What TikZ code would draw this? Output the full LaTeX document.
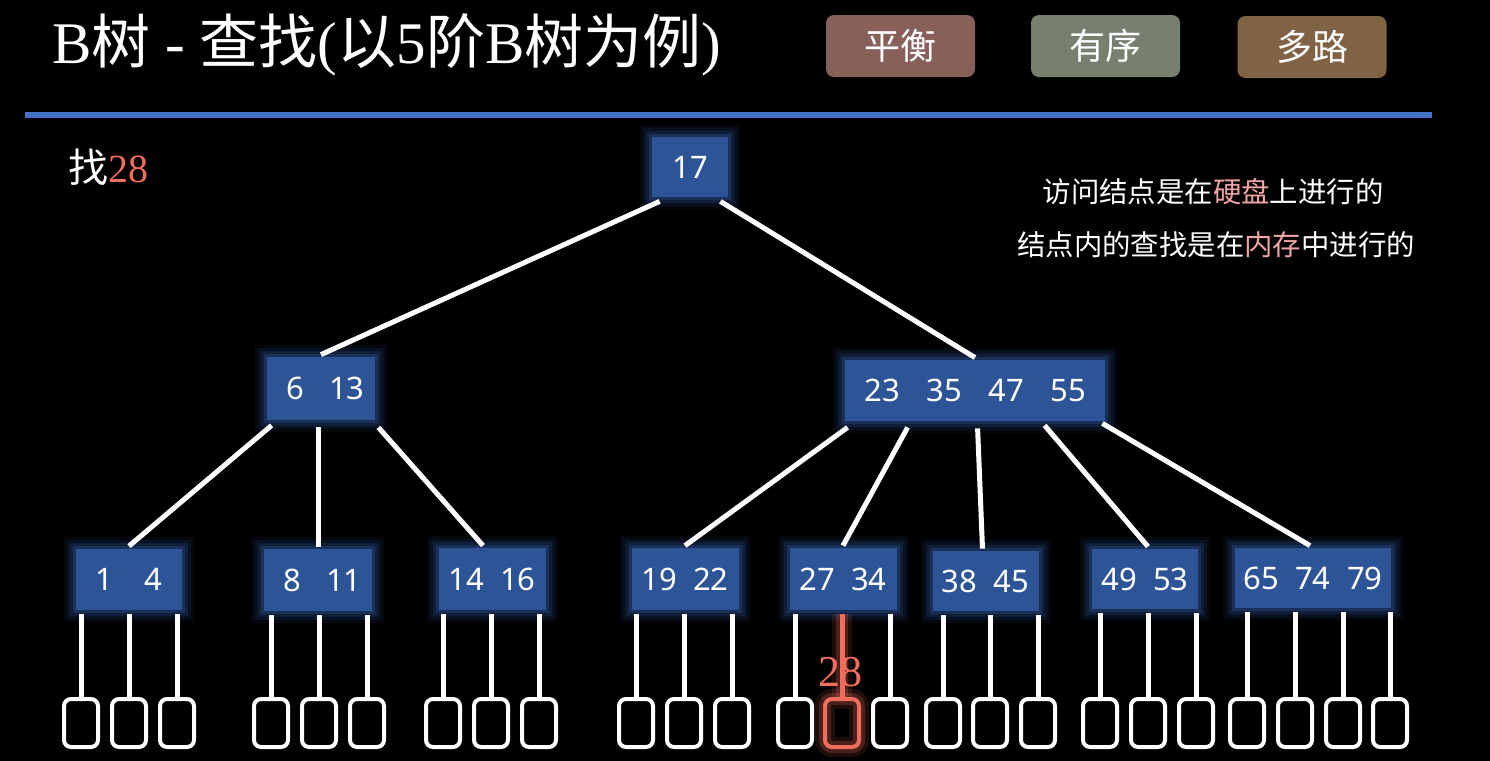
\documentclass[tikz,border=0pt]{standalone}
\usepackage{fontspec}
\setmainfont{Liberation Serif}
\newfontfamily\cjk{Noto Sans CJK SC}
\newfontfamily\numf{Noto Sans}
\usetikzlibrary{calc}
\definecolor{lineblue}{RGB}{68,114,196}
\definecolor{nodeblue}{RGB}{46,84,152}
\definecolor{glowblue}{RGB}{70,120,225}
\definecolor{redc}{RGB}{240,108,92}
\definecolor{pinkc}{RGB}{242,165,165}
\definecolor{btnA}{RGB}{137,95,90}
\definecolor{btnB}{RGB}{119,127,111}
\definecolor{btnC}{RGB}{128,98,68}
\newcommand\zh[1]{{\cjk #1}}
\newcommand\kb[1]{\makebox[26pt]{#1}}
\newcommand\kc[1]{\makebox[31pt]{#1}}
\newcommand\kd[1]{\makebox[24.5pt]{#1}}
\begin{document}
\begin{tikzpicture}[x=0.5pt,y=-0.5pt,
  bnode/.style={fill=nodeblue, text=white, inner sep=0pt, font=\numf\fontsize{15.5}{18}\selectfont,
    preaction={draw=glowblue, line width=12pt, draw opacity=0.06},
    preaction={draw=glowblue, line width=9pt, draw opacity=0.09},
    preaction={draw=glowblue, line width=6pt, draw opacity=0.13},
    preaction={draw=glowblue, line width=3pt, draw opacity=0.2}},
  edge/.style={draw=white, line width=2.5pt},
  leaf/.style={draw=white, line width=2pt, rounded corners=3.5pt, minimum width=17pt, minimum height=24pt, inner sep=0pt},
  hot/.style={draw=redc, line width=2.5pt,
    preaction={draw=redc, line width=10pt, draw opacity=0.12},
    preaction={draw=redc, line width=6pt, draw opacity=0.22}},
  hotleaf/.style={leaf, draw=redc,
    preaction={draw=redc, line width=10pt, draw opacity=0.12},
    preaction={draw=redc, line width=6pt, draw opacity=0.22}},
  btn/.style={rounded corners=4pt, minimum width=74.5pt, minimum height=31pt, inner sep=0pt, text=white, font=\cjk\fontsize{18}{20}\selectfont},
  note/.style={text=white, inner sep=0pt, font=\cjk\fontsize{14.2}{16}\selectfont}
]
\fill[black] (0,0) rectangle (1490,761);
\useasboundingbox (0,0) rectangle (1490,761);

% title
\node[anchor=west, text=white, inner sep=0pt, font=\fontsize{29.5}{32}\selectfont] (title) at (52,45)
  {B\zh{树} - \zh{查找}(\zh{以}5\zh{阶}B\zh{树为例})};
\draw[line width=3pt, lineblue] (25,115) -- (1432,115);

% buttons
\node[btn, fill=btnA] (b1) at (900.5,46) {平衡};
\node[btn, fill=btnB] (b2) at (1105.5,46) {有序};
\node[btn, fill=btnC] (b3) at (1312,47) {多路};

% notes
\node[anchor=west, text=white, inner sep=0pt, font=\fontsize{20}{24}\selectfont] (find) at (68,167)
  {\zh{找}\textcolor{redc}{28}};
\node[note] (n1) at (1213,192) {访问结点是在\textcolor{pinkc}{硬盘}上进行的};
\node[note] (n2) at (1216,245) {结点内的查找是在\textcolor{pinkc}{内存}中进行的};

% tree nodes
\node[bnode, minimum width=38pt, minimum height=30pt] (r) at (690,167) {17};
\node[bnode, minimum width=54pt, minimum height=31.5pt] (a) at (321,388.5) {\kb{6}\kb{13}};
\node[bnode, minimum width=130pt, minimum height=30.5pt] (b) at (975,390.5) {\kc{23}\kc{35}\kc{47}\kc{55}};

\node[bnode, minimum width=53pt, minimum height=30.5pt] (l1) at (129,579) {\kd{1}\kd{4}};
\node[bnode, minimum width=54pt, minimum height=31pt] (l2) at (318,580) {\kb{8}\kb{11}};
\node[bnode, minimum width=53.5pt, minimum height=31pt] (l3) at (492,579) {\kb{14}\kb{16}};
\node[bnode, minimum width=53.5pt, minimum height=31pt] (l4) at (685,579) {\kb{19}\kb{22}};
\node[bnode, minimum width=53.5pt, minimum height=31pt] (l5) at (843,579) {\kb{27}\kb{34}};
\node[bnode, minimum width=53pt, minimum height=30pt] (l6) at (985.5,581) {\kb{38}\kb{45}};
\node[bnode, minimum width=53pt, minimum height=30pt] (l7) at (1145,579) {\kb{49}\kb{53}};
\node[bnode, minimum width=76.5pt, minimum height=30pt] (l8) at (1313,578) {\kb{65}\kb{74}\kb{79}};

% tree edges
\draw[edge] ($(r.south west)+(8,4)$) -- ($(a.north)+(0,-2)$);
\draw[edge] ($(r.south east)+(-8,4)$) -- ($(b.north)+(0,-2)$);
\draw[edge] ($(a.south west)+(5,5)$) -- ($(l1.north)+(0,-2)$);
\draw[edge] ($(a.south)+(-3,7)$) -- ($(l2.north)+(0,-2)$);
\draw[edge] ($(a.south east)+(3,7)$) -- ($(l3.north)+(-9,-2)$);
\draw[edge] ($(b.south west)+(3,6)$) -- ($(l4.north)+(0,-2)$);
\draw[edge] ($(b.south west)+(63,6)$) -- ($(l5.north)+(0,-2)$);
\draw[edge] ($(b.south west)+(133,7)$) -- ($(l6.north)+(-3,-2)$);
\draw[edge] ($(b.south west)+(200,4)$) -- ($(l7.north)+(3,-2)$);
\draw[edge] ($(b.south east)+(-3,2)$) -- ($(l8.north)+(-3,-2)$);

% leaf squares
\foreach \nm/\x in {s1/81,s2/129,s3/177,s4/271,s5/319,s6/367,s7/443,s8/491,s9/539,
  s10/636,s11/684,s12/732,s13/795,s15/890,s16/943,s17/990,s18/1038,
  s19/1100,s20/1148,s21/1196,s22/1247,s23/1295,s24/1343,s25/1390}
  \node[leaf] (\nm) at (\x,723) {};

\foreach \s/\p in {s1/l1,s2/l1,s3/l1,s4/l2,s5/l2,s6/l2,s7/l3,s8/l3,s9/l3,
  s10/l4,s11/l4,s12/l4,s13/l5,s15/l5,s16/l6,s17/l6,s18/l6,
  s19/l7,s20/l7,s21/l7,s22/l8,s23/l8,s24/l8,s25/l8}
  \draw[edge] ($(\s.north |- \p.south)+(0,4)$) -- (\s.north);

% highlighted path
\node[hotleaf] (s14) at (842,723) {};
\draw[hot] ($(s14.north |- l5.south)+(0,4)$) -- (s14.north);
\node[text=redc, inner sep=0pt, font=\fontsize{22}{24}\selectfont] (lbl) at (840,672) {28};
\end{tikzpicture}
\end{document}
